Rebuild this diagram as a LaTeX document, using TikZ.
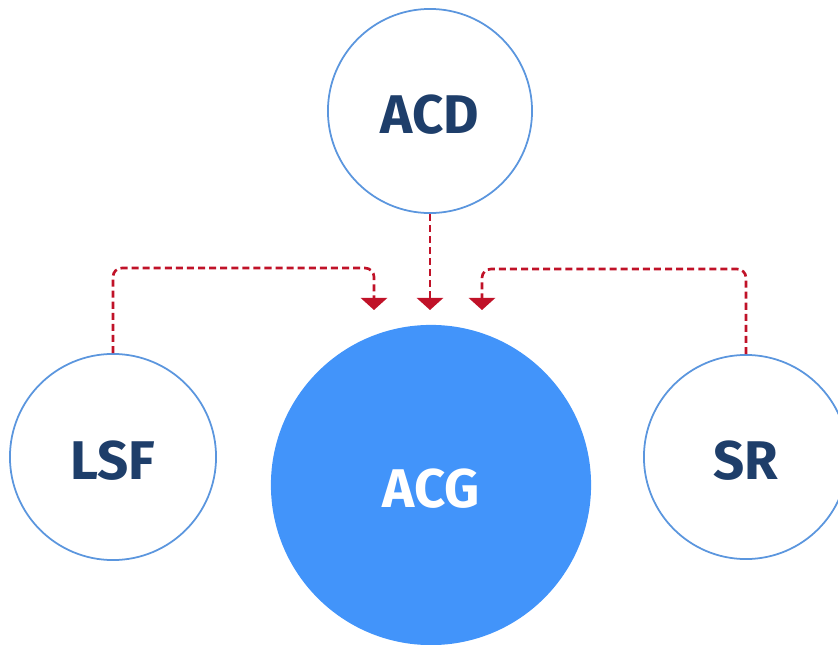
\documentclass[tikz,border=0pt]{standalone}
\usepackage{fontspec}
\setmainfont{Fira Sans}
\usepackage{tikz}
\usetikzlibrary{arrows.meta, positioning, calc}
\definecolor{ringblue}{RGB}{91,150,222}
\definecolor{hubblue}{RGB}{66,148,250}
\definecolor{labelnavy}{RGB}{30,62,106}
\definecolor{flowred}{RGB}{192,18,40}

\begin{document}
\begin{tikzpicture}[x=0.01cm, y=-0.01cm,
  ring/.style={circle, draw=ringblue, line width=0.5pt, fill=white, inner sep=0pt, text=labelnavy, font=\bfseries\fontsize{15.5}{18}\selectfont, text height=13pt, text depth=0pt},
  hub/.style={circle, fill=hubblue, inner sep=0pt, minimum size=3.2cm, text=white, font=\bfseries\fontsize{15.5}{18}\selectfont, text height=13pt, text depth=0pt},
  flow/.style={draw=flowred, line width=0.75pt, dash pattern=on 2pt off 1.15pt, rounded corners=2.5pt, -{Triangle[width=0.26cm, length=0.12cm]}}]
  \useasboundingbox (0,0) rectangle (838,645);
  % circles
  \node[ring, minimum size=2.04cm] (acd) at (430,111) {ACD};
  \node[ring, minimum size=2.06cm] (lsf) at (113,457) {LSF};
  \node[ring, minimum size=2.04cm] (sr) at (746,457) {SR};
  \node[hub] (acg) at (431,485) {ACG};
  % arrow ends above ACG
  \coordinate (inL) at (374,310);
  \coordinate (inM) at (430,310);
  \coordinate (inR) at (482,310);
  % dashed links
  \draw[flow] (acd.south) -- (inM);
  \draw[flow] (lsf.north) -- ++(0,-85) -| (inL);
  \draw[flow] (sr.north) -- ++(0,-85) -| (inR);
\end{tikzpicture}
\end{document}
